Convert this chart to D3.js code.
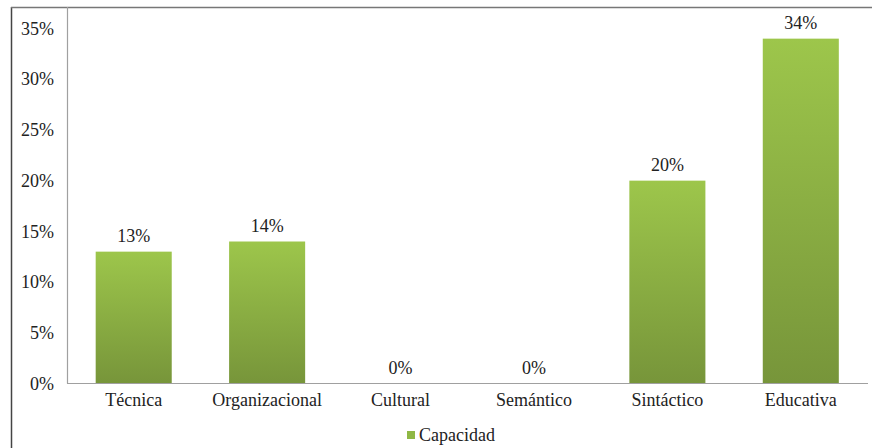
<!DOCTYPE html>
<html><head><meta charset="utf-8">
<script src="https://cdn.jsdelivr.net/npm/d3@7"></script>
<style>body{margin:0;background:#fff}svg{display:block}
svg text{font-family:"Liberation Serif","Times New Roman","DejaVu Serif",serif !important;}</style>
</head><body>
<script>
const categories = ["Técnica","Organizacional","Cultural","Semántico","Sintáctico","Educativa"];
const values = [13,14,0,0,20,34];
const yTicks = [0,5,10,15,20,25,30,35];
const seriesName = "Capacidad";

const W=872,H=448;
const svg=d3.select("body").append("svg").attr("width",W).attr("height",H);
const defs=svg.append("defs");
const g=defs.append("linearGradient").attr("id","bg").attr("x1",0).attr("y1",0).attr("x2",0).attr("y2",1);
g.append("stop").attr("offset","0%").attr("stop-color","#9dc64b");
g.append("stop").attr("offset","100%").attr("stop-color","#77953a");

// frame
svg.append("line").attr("x1",11.5).attr("x2",11.5).attr("y1",7).attr("y2",H).attr("stroke","#444").attr("stroke-width",1.5);
svg.append("line").attr("x1",11).attr("x2",W).attr("y1",7.5).attr("y2",7.5).attr("stroke","#777").attr("stroke-width",1.5);

const left=67,right=867.5,bottom=383.5;
const x=d3.scaleBand().domain(categories).range([left,right]).paddingInner(0.43).paddingOuter(0.215);
const y=d3.scaleLinear().domain([0,35]).range([bottom,28.5]);

const fs=18;

svg.append("line").attr("x1",left+0.5).attr("x2",left+0.5).attr("y1",7).attr("y2",bottom).attr("stroke","#a0a0a0").attr("stroke-width",1.2);
const yAxis=d3.axisLeft(y).tickValues(yTicks).tickFormat(d=>d+"%").tickSize(0).tickPadding(13);
const ya=svg.append("g").attr("transform",`translate(${left},0)`).call(yAxis);
ya.select(".domain").remove();
ya.selectAll("text").attr("font-size",fs).attr("fill","#222");

svg.selectAll("rect.bar").data(values).join("rect").attr("class","bar")
 .attr("x",(d,i)=>x(categories[i])).attr("width",x.bandwidth())
 .attr("y",d=>y(d)).attr("height",d=>bottom-y(d)).attr("fill","url(#bg)");

const xAxis=d3.axisBottom(x).tickSize(0).tickPadding(10);
const xa=svg.append("g").attr("transform",`translate(0,${bottom})`).call(xAxis);
xa.select(".domain").attr("stroke","#a0a0a0").attr("stroke-width",1.2).attr("d",`M${left},0H${W-4}`);
xa.selectAll("text").attr("font-size",fs).attr("fill","#222");

svg.selectAll("text.val").data(values).join("text").attr("class","val")
 .attr("x",(d,i)=>x(categories[i])+x.bandwidth()/2).attr("y",d=>y(d)-10)
 .attr("text-anchor","middle").attr("font-size",fs).attr("fill","#222")
 .text(d=>d+"%");

const lg=svg.append("g").attr("transform","translate(407,431)");
lg.append("rect").attr("width",8).attr("height",8).attr("fill","#8fb845");
lg.append("text").attr("x",12).attr("y",10).attr("font-size",fs).attr("fill","#222").text(seriesName);
</script>
</body></html>
